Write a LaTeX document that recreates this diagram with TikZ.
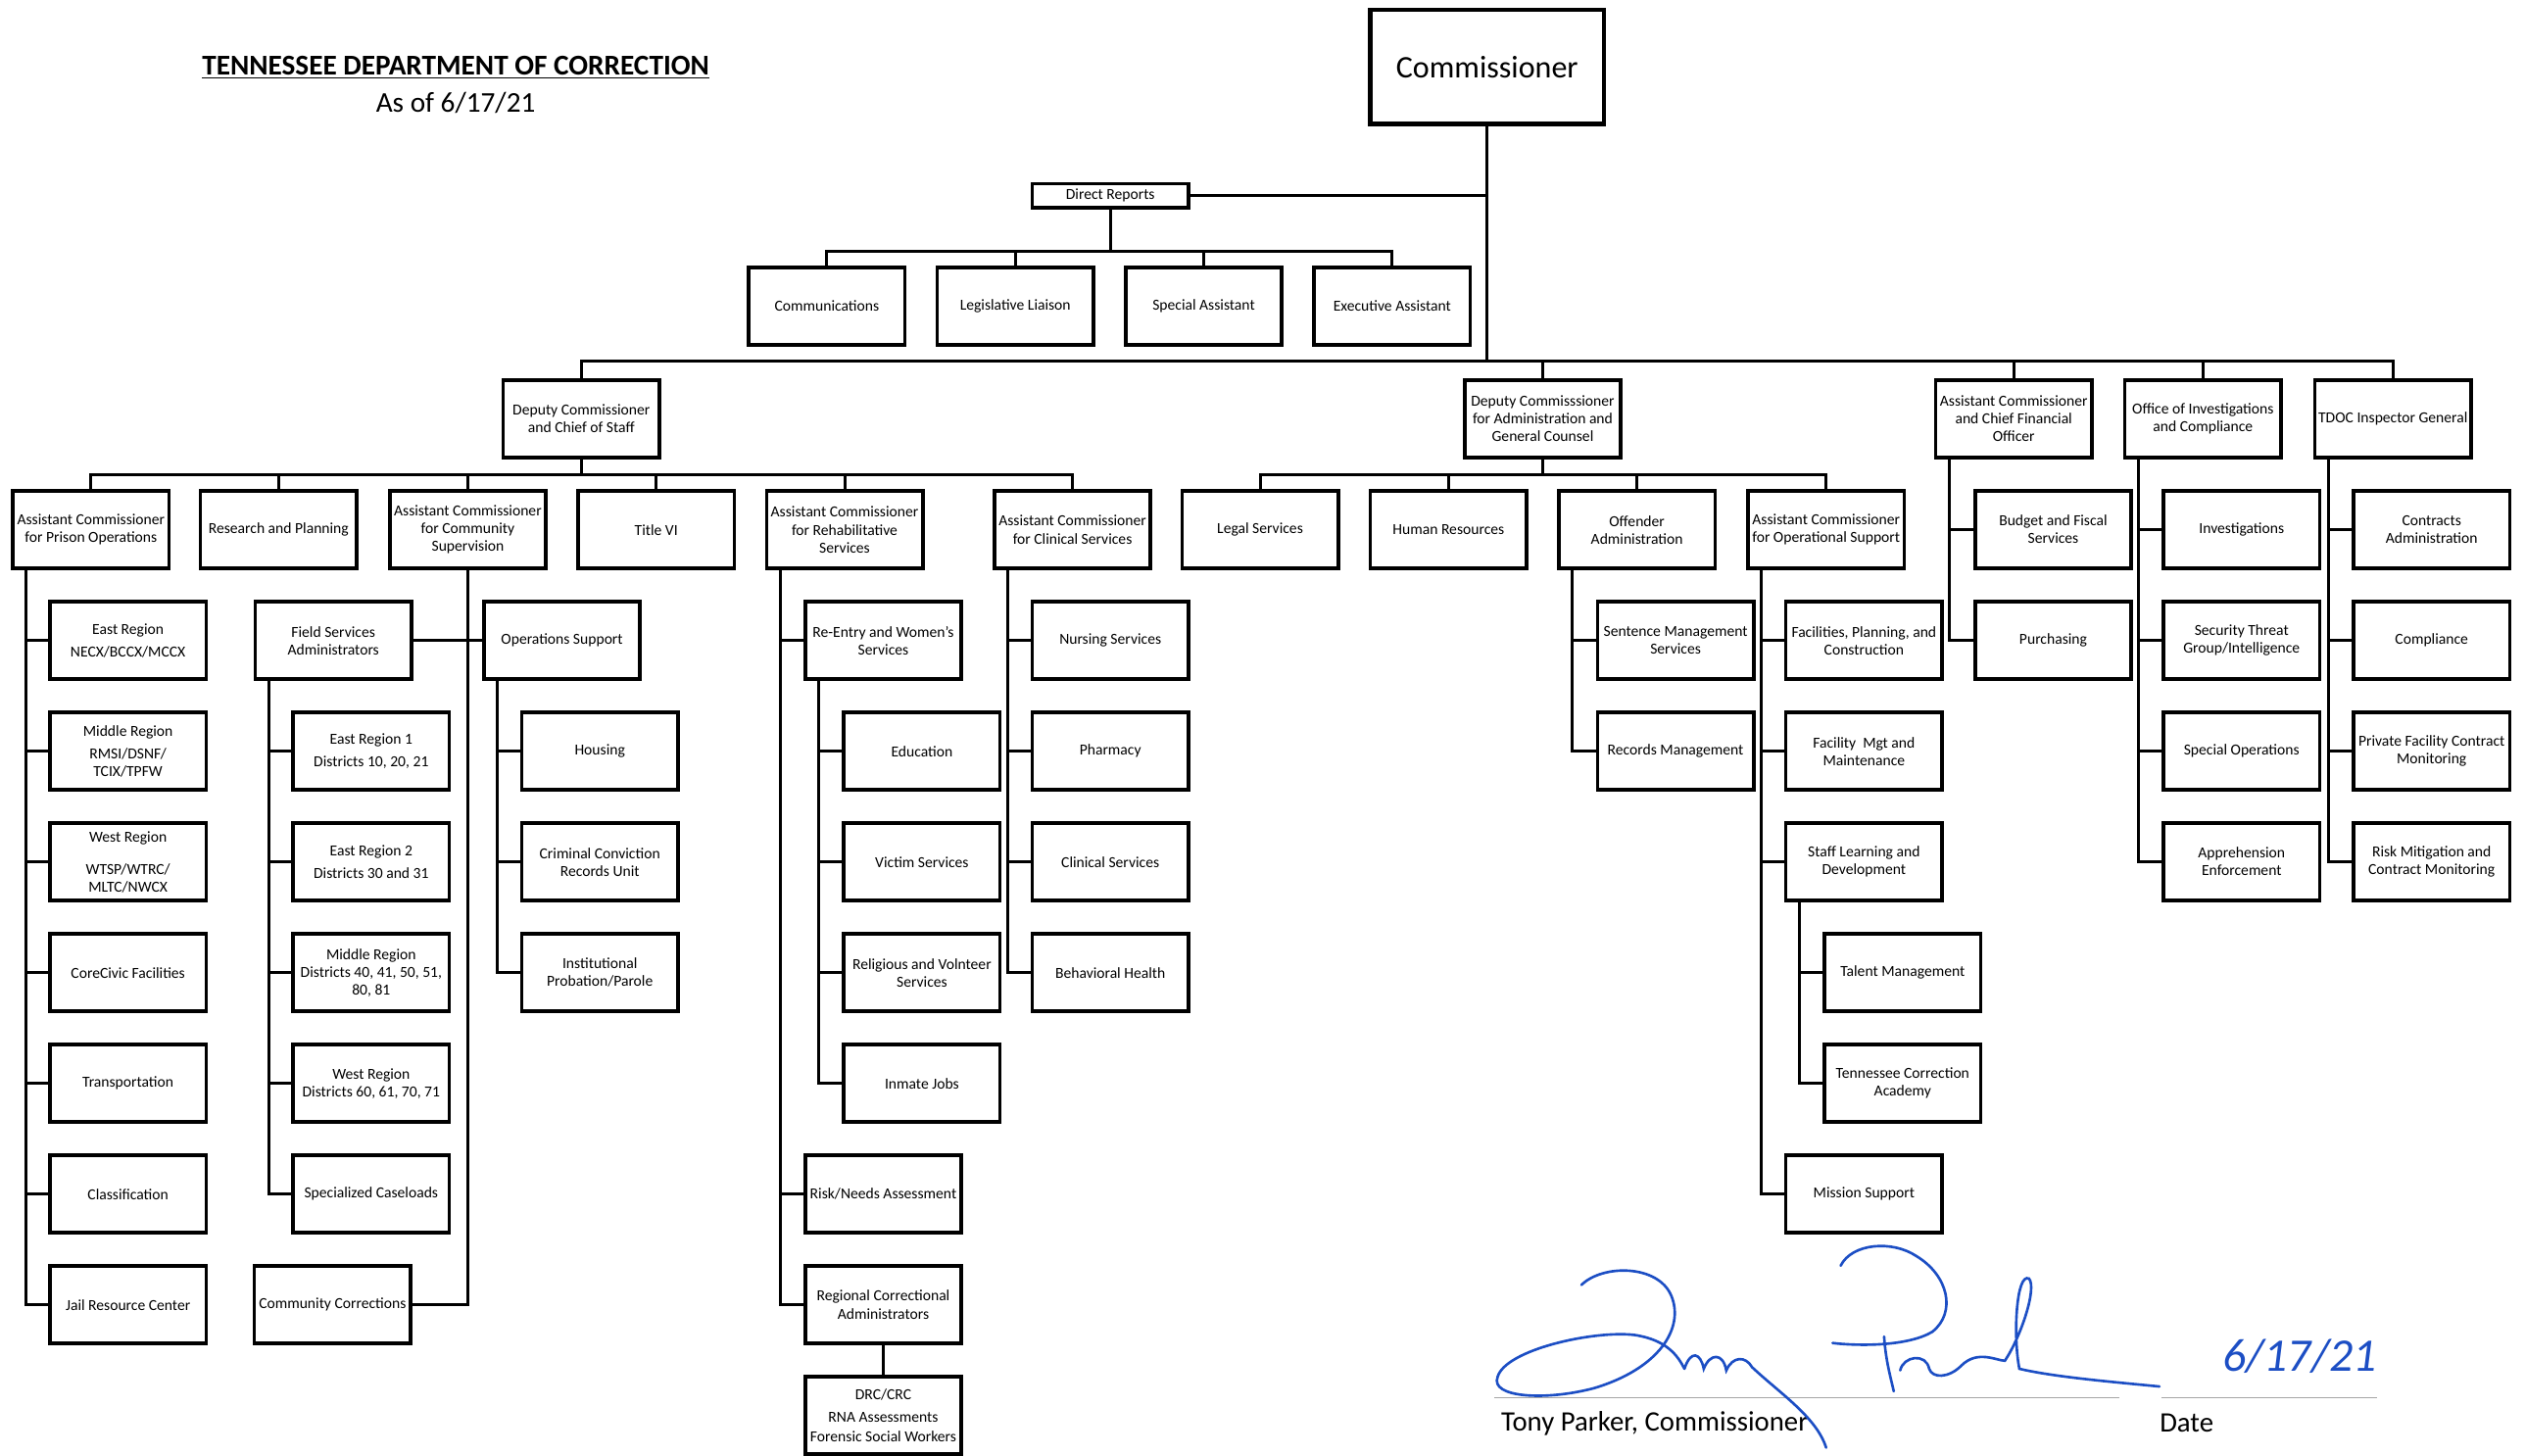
\documentclass[tikz,border=0pt]{standalone}
\usepackage{fontspec}
\setmainfont{Carlito}

\definecolor{inkblue}{RGB}{28,78,196}
\newcommand{\boxfont}{\fontsize{9.5}{11}\selectfont}

\begin{document}
\begin{tikzpicture}
[x=1pt,y=-1pt,node distance=68.75pt]
  \tikzstyle{unit}=[draw=black,line width=2.2pt,fill=white,minimum width=97pt,minimum height=48pt,inner sep=0pt,align=center,font=\boxfont]
  \tikzstyle{link}=[line width=1.8pt]
  \tikzstyle{sig}=[inkblue,line width=1.6pt,line cap=round]

  \useasboundingbox (0,0) rectangle (1568,904);

  % heading
  \node (title) at (283,42) {\fontsize{17.8}{20}\selectfont\bfseries\underline{TENNESSEE DEPARTMENT OF CORRECTION}};
  \node (asof)  at (283,64) {\fontsize{17.8}{20}\selectfont As of 6/17/21};

  % top
  \node[unit,minimum width=145pt,minimum height=71pt,line width=2.6pt,font=\fontsize{19.5}{22}\selectfont] (comm) at (923.5,41.5) {Commissioner};
  \node[unit,minimum height=15pt] (direct) at (689.5,121.5) {Direct Reports};
  \node[unit] (comms) at (513.5,190) {Communications};
  \node[unit] (leg)   at (630.5,190) {Legislative Liaison};
  \node[unit] (spec)  at (747.5,190) {Special Assistant};
  \node[unit] (exec)  at (864.5,190) {Executive Assistant};

  \node[unit] (dcos)    at (361,260)    {Deputy Commissioner\\and Chief of Staff};
  \node[unit] (dcadmin) at (958,260)    {Deputy Commisssioner\\for Administration and\\General Counsel};
  \node[unit] (cfo)     at (1250.5,260) {Assistant Commissioner\\and Chief Financial\\Officer};
  \node[unit] (oic)     at (1368,260)   {Office of Investigations\\and Compliance};
  \node[unit] (ig)      at (1486,260)   {TDOC Inspector General};

  % chief of staff
  \node[unit] (prison)   at (56.5,329)  {Assistant Commissioner\\for Prison Operations};
  \node[unit] (research) at (173,329)   {Research and Planning};
  \node[unit] (cs)       at (290.5,329) {Assistant Commissioner\\for Community\\Supervision};
  \node[unit] (title6)   at (407.5,329) {Title VI};
  \node[unit] (rehab)    at (524.5,329) {Assistant Commissioner\\for Rehabilitative\\Services};
  \node[unit] (clinical) at (666,329)   {Assistant Commissioner\\for Clinical Services};

  % administration
  \node[unit] (legal)  at (782.5,329)  {Legal Services};
  \node[unit] (hr)     at (899.5,329)  {Human Resources};
  \node[unit] (offadm) at (1016.5,329) {Offender\\Administration};
  \node[unit] (opsupp) at (1134,329)   {Assistant Commissioner\\for Operational Support};

  % prison operations
  \node[unit] (eastreg)   [below of=prison, xshift=23pt] {East Region\\[3pt]NECX/BCCX/MCCX};
  \node[unit] (midreg)    [below of=eastreg]   {Middle Region\\[3pt]RMSI/DSNF/\\TCIX/TPFW};
  \node[unit] (westreg)   [below of=midreg]    {West Region\\[9pt]WTSP/WTRC/\\MLTC/NWCX};
  \node[unit] (corecivic) [below of=westreg]   {CoreCivic Facilities};
  \node[unit] (transport) [below of=corecivic] {Transportation};
  \node[unit] (classif)   [below of=transport] {Classification};
  \node[unit] (jail)      [below of=classif]   {Jail Resource Center};

  % community supervision
  \node[unit] (fieldsvc) [below of=cs, xshift=-83.5pt] {Field Services\\Administrators};
  \node[unit] (opssup)   [below of=cs, xshift=58.5pt]  {Operations Support};
  \node[unit] (eastone)  [below of=fieldsvc, xshift=23.5pt] {East Region 1\\[3pt]Districts 10, 20, 21};
  \node[unit] (easttwo)  [below of=eastone]  {East Region 2\\[3pt]Districts 30 and 31};
  \node[unit] (middist)  [below of=easttwo]  {Middle Region\\Districts 40, 41, 50, 51,\\80, 81};
  \node[unit] (westdist) [below of=middist]  {West Region\\Districts 60, 61, 70, 71};
  \node[unit] (special)  [below of=westdist] {Specialized Caseloads};
  \node[unit] (commcorr) [below of=special, xshift=-24pt] {Community Corrections};
  \node[unit] (housing)   [below of=opssup, xshift=23.5pt] {Housing};
  \node[unit] (ccru)      [below of=housing] {Criminal Conviction\\Records Unit};
  \node[unit] (probation) [below of=ccru]    {Institutional\\Probation/Parole};

  % rehabilitative services
  \node[unit] (reentry)   [below of=rehab, xshift=24pt]   {Re-Entry and Women's\\Services};
  \node[unit] (education) [below of=reentry, xshift=24pt] {Education};
  \node[unit] (victim)    [below of=education] {Victim Services};
  \node[unit] (religious) [below of=victim]    {Religious and Volnteer\\Services};
  \node[unit] (jobs)      [below of=religious] {Inmate Jobs};
  \node[unit] (risk)      [below of=jobs, xshift=-24pt] {Risk/Needs Assessment};
  \node[unit] (regional)  [below of=risk]      {Regional Correctional\\Administrators};
  \node[unit] (drc)       [below of=regional]  {DRC/CRC\\[3pt]RNA Assessments\\[1pt]Forensic Social Workers};

  % clinical services
  \node[unit] (nursing)  [below of=clinical, xshift=23.5pt] {Nursing Services};
  \node[unit] (pharmacy) [below of=nursing]  {Pharmacy};
  \node[unit] (clinsvc)  [below of=pharmacy] {Clinical Services};
  \node[unit] (behav)    [below of=clinsvc]  {Behavioral Health};

  % offender administration, operational support
  \node[unit] (sentence)   [below of=offadm, xshift=24pt] {Sentence Management\\Services};
  \node[unit] (records)    [below of=sentence] {Records Management};
  \node[unit] (facilities) [below of=opsupp, xshift=23.5pt] {Facilities, Planning, and\\Construction};
  \node[unit] (facmgt)     [below of=facilities] {Facility~ Mgt and\\Maintenance};
  \node[unit] (staff)      [below of=facmgt]     {Staff Learning and\\Development};
  \node[unit] (talent)     [below of=staff, xshift=24pt] {Talent Management};
  \node[unit] (academy)    [below of=talent]     {Tennessee Correction\\Academy};
  \node[unit] (mission)    [below of=academy, xshift=-24pt] {Mission Support};

  % cfo, investigations, inspector general
  \node[unit] (budget)     [below of=cfo, xshift=24.5pt] {Budget and Fiscal\\Services};
  \node[unit] (purchasing) [below of=budget] {Purchasing};
  \node[unit] (invest)     [below of=oic, xshift=24pt] {Investigations};
  \node[unit] (stg)        [below of=invest] {Security Threat\\Group/Intelligence};
  \node[unit] (specops)    [below of=stg]    {Special Operations};
  \node[unit] (apprehend)  [below of=specops] {Apprehension\\Enforcement};
  \node[unit] (contracts)  [below of=ig, xshift=24pt] {Contracts\\Administration};
  \node[unit] (compliance) [below of=contracts]  {Compliance};
  \node[unit] (private)    [below of=compliance] {Private Facility Contract\\Monitoring};
  \node[unit] (riskmit)    [below of=private]    {Risk Mitigation and\\Contract Monitoring};

  % bars
  \coordinate (mainbar) at (923.5,224);
  \coordinate (drbar)   at (689.5,156);
  \coordinate (dcosbar) at (361,295);
  \coordinate (dcabar)  at (958,295);

  \draw[link] (comm.south) -- (mainbar);
  \draw[link] (direct.east) -- (direct.east -| comm.south);
  \draw[link] (direct.south) -- (drbar);
  \draw[link] (comms.north) |- (drbar) -| (exec.north);
  \foreach \n in {leg,spec} \draw[link] (\n.north) -- (\n.north |- drbar);
  \draw[link] (dcos.north) |- (mainbar) -| (ig.north);
  \foreach \n in {dcadmin,cfo,oic} \draw[link] (\n.north) -- (\n.north |- mainbar);
  \draw[link] (dcos.south) -- (dcosbar);
  \draw[link] (prison.north) |- (dcosbar) -| (clinical.north);
  \foreach \n in {research,cs,title6,rehab} \draw[link] (\n.north) -- (\n.north |- dcosbar);
  \draw[link] (dcadmin.south) -- (dcabar);
  \draw[link] (legal.north) |- (dcabar) -| (opsupp.north);
  \foreach \n in {hr,offadm} \draw[link] (\n.north) -- (\n.north |- dcabar);

  % trunks
  \draw[link] (cs.south) |- (commcorr.east);
  \draw[link] (fieldsvc.east) -- (opssup.west);
  \draw[link] (regional.south) -- (drc.north);
  \foreach \boss/\tail/\kids in {prison/jail/{eastreg,midreg,westreg,corecivic,transport,classif},
      fieldsvc/special/{eastone,easttwo,middist,westdist}, opssup/probation/{housing,ccru},
      rehab/regional/{reentry,risk}, reentry/jobs/{education,victim,religious},
      clinical/behav/{nursing,pharmacy,clinsvc}, offadm/records/{sentence},
      opsupp/mission/{facilities,facmgt,staff}, staff/academy/{talent},
      cfo/purchasing/{budget}, oic/apprehend/{invest,stg,specops},
      ig/riskmit/{contracts,compliance,private}}
  {
    \coordinate (trunk) at ([xshift=9.5pt]\boss.south west);
    \draw[link] (trunk) |- (\tail.west);
    \foreach \c in \kids \draw[link] (\c.west) -- (\c.west -| trunk);
  }

  % signature block
  \draw[gray!70,line width=1pt] (928,868) -- (1316,868);
  \draw[gray!70,line width=1pt] (1342,868) -- (1476,868);
  \node[anchor=west,inner sep=0pt,font=\fontsize{17.5}{20}\selectfont] (signer) at (932,884) {Tony Parker, Commissioner};
  \node[anchor=west,inner sep=0pt,font=\fontsize{17.5}{20}\selectfont] (datelbl) at (1341,884) {Date};
  \node[text=inkblue,font=\fontsize{29}{31}\selectfont\itshape] (datehand) at (1428,842) {6/17/21};

  \draw[sig] (982,798) .. controls (995,785) and (1030,785) .. (1038,805)
    .. controls (1046,825) and (1030,850) .. (990,862)
    .. controls (960,870) and (925,868) .. (930,855)
    .. controls (935,838) and (990,826) .. (1015,829)
    .. controls (1035,832) and (1042,842) .. (1046,850);
  \draw[sig] (1046,850) .. controls (1050,838) and (1056,840) .. (1058,850)
    .. controls (1062,840) and (1070,840) .. (1072,851)
    .. controls (1076,842) and (1084,842) .. (1088,849)
    .. controls (1105,865) and (1128,880) .. (1134,899);
  \draw[sig] (1143,786) .. controls (1150,772) and (1175,770) .. (1190,780)
    .. controls (1210,792) and (1215,815) .. (1200,827)
    .. controls (1185,836) and (1155,836) .. (1138,834);
  \draw[sig] (1170,830) .. controls (1171,845) and (1174,855) .. (1176,864);
  \draw[sig] (1180,851) .. controls (1182,842) and (1196,840) .. (1198,850)
    .. controls (1200,856) and (1210,856) .. (1218,848)
    .. controls (1228,838) and (1240,845) .. (1245,845)
    .. controls (1255,830) and (1265,800) .. (1260,794)
    .. controls (1252,790) and (1250,830) .. (1254,850)
    .. controls (1275,855) and (1310,858) .. (1341,861);
\end{tikzpicture}
\end{document}
